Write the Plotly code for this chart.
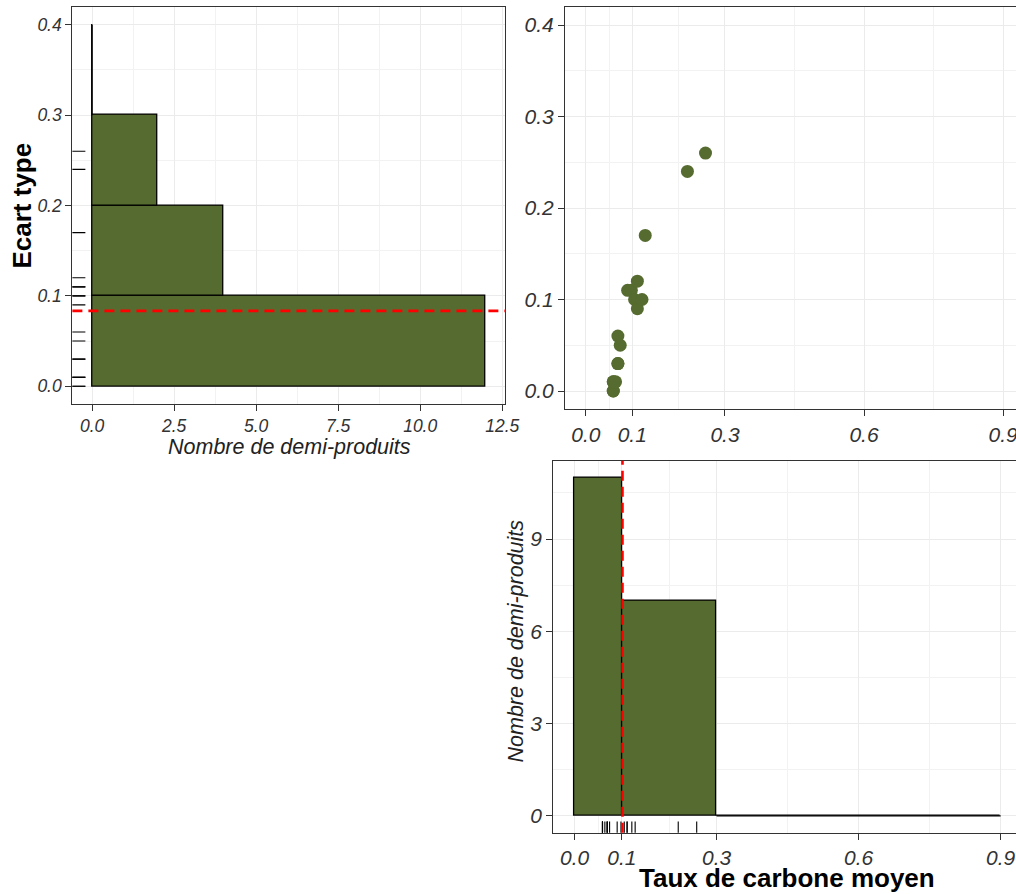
import numpy as np
import pandas as pd
import plotly.graph_objects as go

# ---------------- data ----------------
taux_carbone = [0.059, 0.059, 0.059, 0.059, 0.064, 0.069, 0.069, 0.069, 0.074, 0.090, 0.098,
                0.105, 0.111, 0.111, 0.121, 0.128, 0.219, 0.258]
ecart_type = [0.00, 0.00, 0.01, 0.01, 0.01, 0.03, 0.03, 0.06, 0.05, 0.11, 0.11,
              0.10, 0.12, 0.09, 0.10, 0.17, 0.24, 0.26]
breaks_ecart = [0.0, 0.1, 0.2, 0.3, 0.4]
breaks_taux = [0.0, 0.1, 0.3, 0.9]

ticks_count_h = [0.0, 2.5, 5.0, 7.5, 10.0, 12.5]
ticks_ecart = [0.0, 0.1, 0.2, 0.3, 0.4]
ticks_taux = [0.0, 0.1, 0.3, 0.6, 0.9]
ticklabels_taux = ["0.0", "0.1", "0.3", "0.6", "0.9"]
ticks_count_v = [0, 3, 6, 9]

# ---------------- styling ----------------
W_TARGET, H = 1016, 894
W = 1031
FILL = "#556B2F"
FONT = "Liberation Sans, Arial, sans-serif"
GRID = "#EBEBEB"
MINOR = "#F2F2F2"
BORDER = "#333333"
TICKCOL = "#333333"


def hist_right_closed(values, breaks):
    cats = pd.cut(pd.Series(values), bins=breaks, right=True, include_lowest=True)
    counts = cats.value_counts(sort=False).values
    lo = np.array(breaks[:-1])
    hi = np.array(breaks[1:])
    return counts, lo, hi


cnt_e, lo_e, hi_e = hist_right_closed(ecart_type, breaks_ecart)
cnt_t, lo_t, hi_t = hist_right_closed(taux_carbone, breaks_taux)

fig = go.Figure()

# top-left horizontal histogram
fig.add_trace(go.Bar(
    orientation="h", y=(lo_e + hi_e) / 2, x=cnt_e, width=hi_e - lo_e, base=0,
    marker=dict(color=FILL, line=dict(color="black", width=1.3)),
    xaxis="x", yaxis="y", showlegend=False, hoverinfo="skip"))
for c, a, b in zip(cnt_e, lo_e, hi_e):
    if c == 0:
        fig.add_trace(go.Scatter(x=[0, 0], y=[a, b], mode="lines",
                                 line=dict(color="black", width=1.3),
                                 xaxis="x", yaxis="y", showlegend=False, hoverinfo="skip"))

# top-right scatter
fig.add_trace(go.Scatter(
    x=taux_carbone, y=ecart_type, mode="markers",
    marker=dict(size=13, color=FILL, line=dict(width=0)),
    xaxis="x2", yaxis="y2", showlegend=False))

# bottom histogram
fig.add_trace(go.Bar(
    x=(lo_t + hi_t) / 2, y=cnt_t, width=hi_t - lo_t, base=0,
    marker=dict(color=FILL, line=dict(color="black", width=1.3)),
    xaxis="x3", yaxis="y3", showlegend=False, hoverinfo="skip"))
for c, a, b in zip(cnt_t, lo_t, hi_t):
    if c == 0:
        fig.add_trace(go.Scatter(x=[a, b], y=[0, 0], mode="lines",
                                 line=dict(color="black", width=1.3),
                                 xaxis="x3", yaxis="y3", showlegend=False, hoverinfo="skip"))

shapes = []
# rugs
for v in ecart_type:
    shapes.append(dict(type="line", xref="x domain", yref="y", x0=0, x1=0.03, y0=v, y1=v,
                       line=dict(color="black", width=1.1)))
for v in taux_carbone:
    shapes.append(dict(type="line", xref="x3", yref="y3 domain", x0=v, x1=v, y0=0, y1=0.03,
                       line=dict(color="black", width=1.1)))
# mean lines
shapes.append(dict(type="line", xref="x domain", yref="y", x0=0, x1=1,
                   y0=float(np.mean(ecart_type)), y1=float(np.mean(ecart_type)),
                   line=dict(color="red", width=2.6, dash="10px,6px")))
shapes.append(dict(type="line", xref="x3", yref="y3 domain",
                   x0=float(np.mean(taux_carbone)), x1=float(np.mean(taux_carbone)), y0=0, y1=1,
                   line=dict(color="red", width=2.6, dash="10px,6px")))


def px_x(p):
    return p / W_TARGET


def px_y(p):
    return 1 - p / H


def axis(domain, anchor, rng, tickvals, ticktext, minor_vals, size, mirror=True):
    return dict(
        domain=domain, anchor=anchor, range=rng,
        tickmode="array", tickvals=tickvals, ticktext=ticktext,
        showgrid=True, gridcolor=GRID, gridwidth=1.1,
        minor=dict(tickmode="array", tickvals=minor_vals, showgrid=True,
                   gridcolor=MINOR, gridwidth=0.8, ticks=""),
        showline=True, linecolor=BORDER, linewidth=1.3, mirror=mirror,
        ticks="outside", ticklen=6, tickwidth=1.1, tickcolor=TICKCOL,
        zeroline=False,
        tickfont=dict(family=FONT, size=size, style="italic", color="#333333"),
    )


fmt1 = lambda vals: ["%.1f" % v for v in vals]

layout = dict(
    width=W, height=H, autosize=False, margin=dict(l=0, r=0, t=0, b=0),
    paper_bgcolor="white", plot_bgcolor="white", showlegend=False,
    bargap=0,
    xaxis=axis([px_x(72.3), px_x(505)], "y", [-0.6, 12.6], ticks_count_h, fmt1(ticks_count_h),
               [1.25, 3.75, 6.25, 8.75, 11.25], 17.5),
    yaxis=axis([px_y(404.3), px_y(6.7)], "x", [-0.02, 0.42], ticks_ecart, fmt1(ticks_ecart),
               [0.05, 0.15, 0.25, 0.35], 17.5),
    xaxis2=axis([px_x(564.5), 1.0], "y2", [-0.045, 0.930], ticks_taux, ticklabels_taux,
                [0.05, 0.2, 0.45, 0.75], 21),
    yaxis2=axis([px_y(409.3), px_y(6.7)], "x2", [-0.02, 0.42], ticks_ecart, fmt1(ticks_ecart),
                [0.05, 0.15, 0.25, 0.35], 21, mirror=False),
    xaxis3=axis([px_x(552.7), 1.0], "y3", [-0.045, 0.9345], ticks_taux, ticklabels_taux,
                [0.05, 0.2, 0.45, 0.75], 21),
    yaxis3=axis([px_y(832.7), px_y(460.7)], "x3", [-0.55, 11.55], ticks_count_v,
                [str(v) for v in ticks_count_v], [1.5, 4.5, 7.5, 10.5], 21, mirror=False),
    shapes=shapes,
)
fig.update_layout(**layout)

ann = [
    dict(text="Ecart type", x=px_x(21), y=px_y(205.5), textangle=-90,
         font=dict(family=FONT, size=26, weight="bold", color="black")),
    dict(text="Nombre de demi-produits", x=px_x(289), y=px_y(447),
         font=dict(family=FONT, size=21.5, style="italic", color="#222222")),
    dict(text="Nombre de demi-produits", x=px_x(515), y=px_y(641), textangle=-90,
         font=dict(family=FONT, size=21.5, style="italic", color="#222222")),
    dict(text="Taux de carbone moyen", x=px_x(786.7), y=px_y(878),
         font=dict(family=FONT, size=26, weight="bold", color="black")),
]
for a in ann:
    a.update(xref="paper", yref="paper", showarrow=False, xanchor="center", yanchor="middle")
fig.update_layout(annotations=ann)

post = (
    "document.body.style.margin='0px';"
    "document.body.style.overflow='hidden';"
)
fig.write_html("out.html",
               config={"responsive": False, "displayModeBar": False},
               post_script=post)
